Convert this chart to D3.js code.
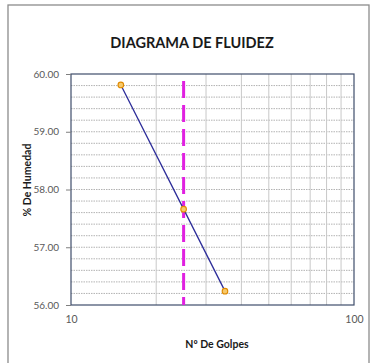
<html>
<head>
<script src="https://d3js.org/d3.v7.min.js"></script>
<style>
  body { margin: 0; background: #fff; }
  text { font-family: "Lato", "Open Sans", sans-serif; }
</style>
</head>
<body>
<svg id="chart" width="371" height="363"></svg>
<script>
// data
const golpes = [15, 25, 35];
const humedad = [59.81, 57.66, 56.24];
const golpesRef = 25;          // vertical dashed line
const yTicks = [56, 57, 58, 59, 60];
const xTicks = [10, 100];

const svg = d3.select("svg#chart");
const pLeft = 71, pRight = 354, pTop = 74, pBottom = 305;

const x = d3.scaleLog().domain([10, 100]).range([pLeft, pRight]);
const y = d3.scaleLinear().domain([56, 60]).range([pBottom, pTop]);

// chart area border
svg.append("rect")
  .attr("x", 8).attr("y", 5).attr("width", 361).attr("height", 370)
  .attr("fill", "#fff").attr("stroke", "#8c8c8c").attr("stroke-width", 1.3);

// title
svg.append("text")
  .attr("x", 192).attr("y", 48)
  .attr("text-anchor", "middle")
  .style("font-size", "14.5px").style("font-weight", "bold").style("fill", "#1a1a1a")
  .text("DIAGRAMA DE FLUIDEZ");

// minor horizontal gridlines (every 0.2)
const yMinor = d3.range(56.2, 60, 0.2);
svg.append("g").selectAll("line").data(yMinor).join("line")
  .attr("x1", pLeft).attr("x2", pRight)
  .attr("y1", d => y(d)).attr("y2", d => y(d))
  .attr("stroke", "#a0a0a0").attr("stroke-width", 0.8)
  .attr("stroke-dasharray", "1.5,1");

// vertical gridlines at 20..90
const xGrid = d3.range(20, 100, 10);
svg.append("g").selectAll("line").data(xGrid).join("line")
  .attr("x1", d => x(d)).attr("x2", d => x(d))
  .attr("y1", pTop).attr("y2", pBottom)
  .attr("stroke", "#c8c8c8").attr("stroke-width", 1);

// plot border
svg.append("rect")
  .attr("x", pLeft).attr("y", pTop).attr("width", pRight - pLeft).attr("height", pBottom - pTop)
  .attr("fill", "none").attr("stroke", "#3f4d6b").attr("stroke-width", 1.2);

// y axis
const yAxis = svg.append("g").attr("transform", `translate(${pLeft},0)`)
  .call(d3.axisLeft(y).tickValues(yTicks).tickFormat(d3.format(".2f")).tickSize(5).tickPadding(7));
yAxis.select(".domain").remove();
yAxis.selectAll("line").attr("stroke", "#7f7f7f");
yAxis.selectAll("text").style("font-size", "10px").style("fill", "#595959")
  .style("font-family", "Lato, sans-serif");

// x axis
const xAxis = svg.append("g").attr("transform", `translate(0,${pBottom})`)
  .call(d3.axisBottom(x).tickValues(xTicks).tickFormat(d3.format("d")).tickSize(0).tickPadding(11));
xAxis.select(".domain").remove();
xAxis.selectAll("text").style("font-size", "10.5px").style("fill", "#595959")
  .style("font-family", "Lato, sans-serif");

// axis titles
svg.append("text")
  .attr("transform", `translate(31,180) rotate(-90)`)
  .attr("text-anchor", "middle")
  .style("font-size", "10.5px").style("font-weight", "bold").style("fill", "#1a1a1a")
  .text("% De Humedad");

svg.append("text")
  .attr("x", 217).attr("y", 348)
  .attr("text-anchor", "middle")
  .style("font-size", "10.5px").style("font-weight", "bold").style("fill", "#1a1a1a")
  .text("Nº De Golpes");

// dashed reference line at 25 golpes
svg.append("line")
  .attr("x1", x(golpesRef)).attr("x2", x(golpesRef))
  .attr("y1", pTop + 7).attr("y2", pBottom)
  .attr("stroke", "#e020e0").attr("stroke-width", 3)
  .attr("stroke-dasharray", "17,7");

// data line
const pts = golpes.map((g, i) => [g, humedad[i]]);
svg.append("path")
  .datum(pts)
  .attr("d", d3.line().x(d => x(d[0])).y(d => y(d[1])))
  .attr("fill", "none").attr("stroke", "#2e2e9a").attr("stroke-width", 1.3);

svg.append("g").selectAll("circle").data(pts).join("circle")
  .attr("cx", d => x(d[0])).attr("cy", d => y(d[1])).attr("r", 2.8)
  .attr("fill", "#f7c96a").attr("stroke", "#e08a00").attr("stroke-width", 1.1);
</script>
</body>
</html>
